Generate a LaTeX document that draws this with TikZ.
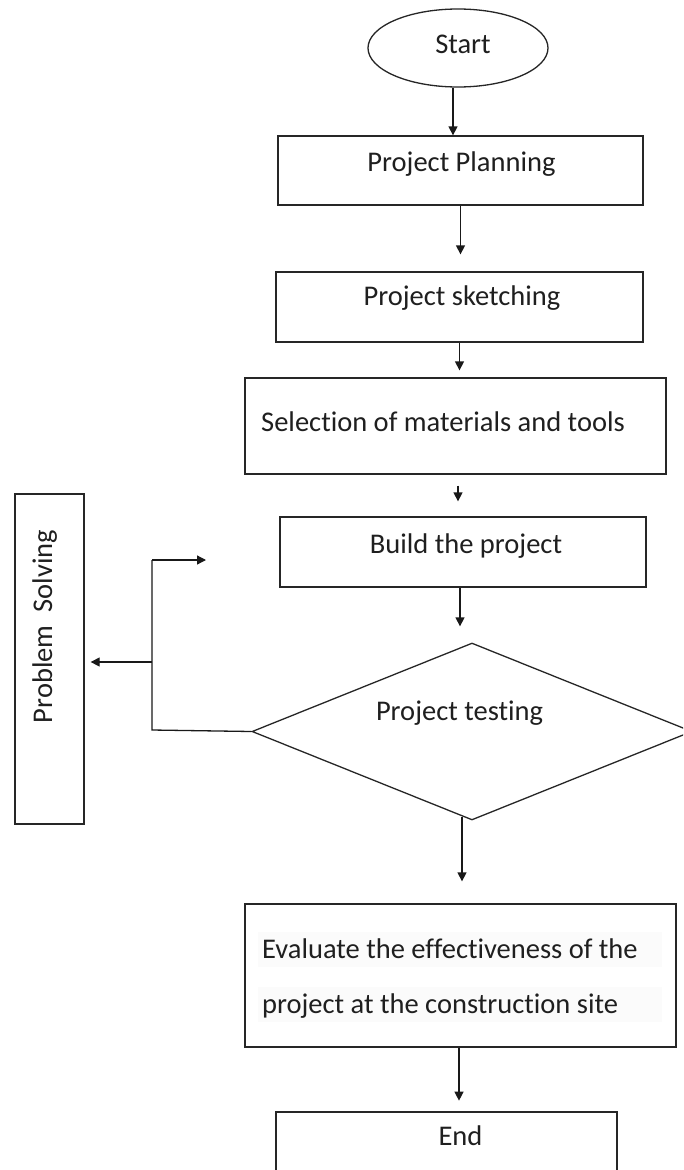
\documentclass[tikz,border=0pt]{standalone}
\usepackage{fontspec}
\setmainfont{Carlito}[Ligatures=NoCommon]
\usetikzlibrary{shapes.geometric,arrows.meta,calc}
\begin{document}
\begin{tikzpicture}[x=1pt,y=-1pt,
  box/.style={draw=black!85, line width=1.3pt, rectangle, inner sep=0pt},
  lbl/.style={font=\fontsize{28.5}{34}\selectfont, text=black!88, inner sep=0pt},
  arr/.style={draw=black!90, line width=1.3pt, -{Triangle[length=9pt,width=9pt]}},
  link/.style={draw=black!90, line width=1.3pt},
  hl/.style={fill=gray!3, draw=none}]
\path[use as bounding box, fill=white] (0,0) rectangle (683,1170);
\clip (0,0) rectangle (683,1170);

% shapes
\node[draw=black!85, line width=1.3pt, ellipse, minimum width=180pt, minimum height=78pt, inner sep=0pt] (start) at (458,48) {};
\node[box, minimum width=365pt, minimum height=69pt] (plan) at (460.5,170.5) {};
\node[box, minimum width=367pt, minimum height=70pt] (sketch) at (459.5,307) {};
\node[box, minimum width=421pt, minimum height=96pt] (sel) at (455.5,426) {};
\node[box, minimum width=366pt, minimum height=70pt] (build) at (463,552) {};
\node[draw=black!85, line width=1.3pt, diamond, minimum width=440pt, minimum height=177pt, inner sep=0pt] (test) at (472,731.5) {};
\node[box, minimum width=431pt, minimum height=143pt] (eval) at (460.5,975.5) {};
\node[box, minimum width=341pt, minimum height=110pt] (end) at (446.5,1167) {};
\node[box, minimum width=69pt, minimum height=330pt] (ps) at (49.5,659) {};

% highlight behind evaluation text
\fill[hl] (258,932) rectangle (662,967);
\fill[hl] (258,987) rectangle (662,1022);

% texts
\node[lbl, anchor=base] (startT) at (463,53) {Start};
\node[lbl, anchor=base] (planT) at (461.5,171.7) {Project Planning};
\node[lbl, anchor=base] (sketchT) at (462,305.7) {Project sketching};
\node[lbl, anchor=base west] (selT) at (261,431.7) {Selection of materials and tools};
\node[lbl, anchor=base] (buildT) at (466,553) {Build the project};
\node[lbl, anchor=base] (testT) at (459.5,720) {Project testing};
\node[lbl, anchor=base west] (evalA) at (262,958) {Evaluate the effectiveness of the};
\node[lbl, anchor=base west] (evalB) at (262,1013) {project at the construction site};
\node[lbl, anchor=base] (endT) at (460.5,1145.7) {End};
\node[lbl, anchor=base, rotate=90] (psT) at (52,626.5) {Problem\ \ Solving};

% connectors
\draw[arr] ([xshift=-5pt]start.south) -- ([xshift=-5pt]start.south |- plan.north);
\draw[arr] (plan.south) -- ($(plan.south |- sketch.north)+(0,-17)$);
\draw[arr] (sketch.south) -- ($(sketch.south |- sel.north)+(0,-7)$);
\draw[arr] ($(sel.south)+(2.5,11)$) -- ($(sel.south |- build.north)+(2.5,-15)$);
\draw[arr] ($(build.south)+(-3,0)$) -- ($(build.south |- test.north)+(-3,-16)$);
\draw[arr] ($(test.south)+(-10,-4)$) -- ($(eval.north)+(1.5,-22)$);
\draw[arr] ($(eval.south)+(-1.5,0)$) -- ($(eval.south)+(-1.5,53)$);

% feedback loop
\coordinate (jb) at (152,730);
\coordinate (jt) at (152,560);
\coordinate (jm) at (152,662);
\coordinate (fe) at (206,560);
\draw[link] (test.west) -- (jb) -- (jt);
\draw[arr] (jt) -- (fe);
\draw[arr] (jm) -- ($(jm -| ps.east)+(6,0)$);
\end{tikzpicture}
\end{document}
